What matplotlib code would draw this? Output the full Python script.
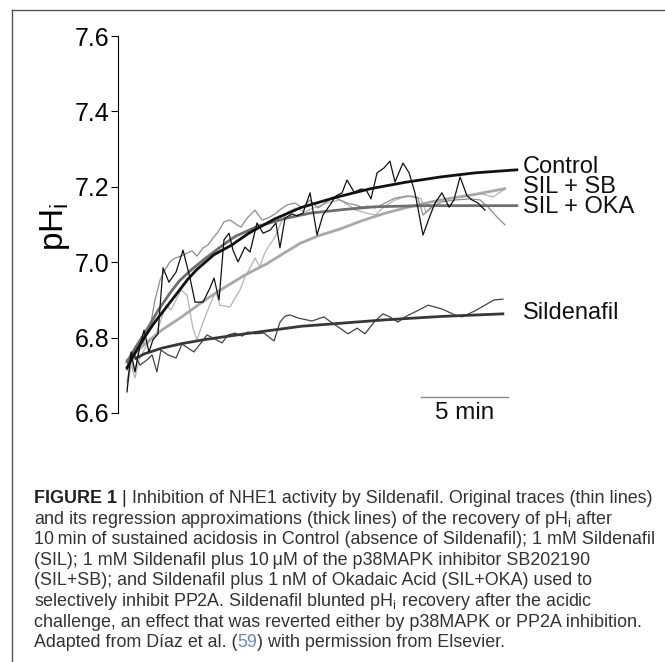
import matplotlib
matplotlib.use('Agg')
import matplotlib.pyplot as plt
from matplotlib.lines import Line2D

plt.rcParams['font.family'] = ['Liberation Sans', 'DejaVu Sans']
plt.rcParams['mathtext.default'] = 'regular'

# thin traces (time in min, pHi)
ctrl_t = [0, 0.23, 0.46, 0.75, 0.98, 1.26, 1.49, 1.78, 2.07, 2.41,
          2.82, 3.22, 3.62, 3.91, 4.37, 4.77, 5.00, 5.29, 5.57, 5.86,
          6.09, 6.38, 6.78, 7.07, 7.47, 7.82, 8.22, 8.56, 8.79, 9.08,
          9.48, 9.77, 10.11, 10.52, 10.92, 11.26, 11.67, 12.01, 12.36, 12.64,
          13.05, 13.45, 13.74, 14.02, 14.37, 14.77, 15.11, 15.40, 15.86, 16.21,
          16.55, 17.01, 17.36, 17.70, 18.10, 18.51, 18.79, 19.14, 19.54, 19.83,
          20.17, 20.57]
ctrl_ph = [6.656, 6.762, 6.709, 6.780, 6.820, 6.762, 6.794, 6.810, 6.985, 6.947,
           6.974, 7.032, 6.958, 6.894, 6.894, 6.932, 6.958, 6.900, 7.059, 7.077,
           7.032, 7.001, 7.040, 7.027, 7.104, 7.077, 7.085, 7.104, 7.038, 7.117,
           7.128, 7.123, 7.130, 7.184, 7.072, 7.125, 7.152, 7.176, 7.184, 7.218,
           7.186, 7.194, 7.192, 7.168, 7.237, 7.250, 7.268, 7.213, 7.263, 7.237,
           7.184, 7.072, 7.117, 7.157, 7.184, 7.146, 7.165, 7.226, 7.176, 7.165,
           7.157, 7.138]

sil_t = [0, 0.34, 0.75, 1.15, 1.44, 1.72, 1.95, 2.36, 2.82, 3.16,
         3.51, 3.85, 4.25, 4.60, 5.06, 5.46, 5.80, 6.21, 6.61, 6.95,
         7.36, 7.87, 8.45, 8.79, 9.08, 9.37, 9.83, 10.63, 11.32, 11.78,
         12.24, 12.70, 13.22, 13.68, 14.25, 14.71, 15.11, 15.57, 15.98, 16.55,
         17.30, 18.10, 18.85, 19.25, 20.00, 20.57, 21.09, 21.61]
sil_ph = [6.714, 6.762, 6.727, 6.741, 6.754, 6.709, 6.767, 6.754, 6.746, 6.783,
          6.772, 6.762, 6.786, 6.807, 6.796, 6.786, 6.807, 6.812, 6.804, 6.815,
          6.810, 6.812, 6.791, 6.841, 6.857, 6.860, 6.852, 6.844, 6.855, 6.839,
          6.825, 6.810, 6.825, 6.810, 6.844, 6.863, 6.855, 6.841, 6.855, 6.868,
          6.886, 6.876, 6.860, 6.855, 6.871, 6.886, 6.900, 6.902]

oka_t = [0, 0.23, 0.46, 0.69, 0.92, 1.15, 1.38, 1.61, 1.90, 2.18,
         2.47, 2.76, 3.10, 3.45, 3.74, 4.02, 4.37, 4.66, 4.94, 5.23,
         5.57, 5.92, 6.26, 6.55, 6.90, 7.36, 7.76, 8.10, 8.51, 8.85,
         9.20, 9.66, 10.06, 10.52, 10.98, 11.38, 11.84, 12.24, 12.64, 13.10,
         13.51, 13.85, 14.25, 14.83, 15.40, 16.15, 16.72, 17.01, 17.53, 18.10,
         18.85, 19.71, 20.29, 20.75, 21.26, 21.72]
oka_ph = [6.682, 6.741, 6.709, 6.767, 6.780, 6.820, 6.841, 6.900, 6.953, 6.979,
          7.001, 7.011, 7.016, 7.024, 7.030, 7.016, 7.038, 7.046, 7.064, 7.080,
          7.107, 7.112, 7.101, 7.093, 7.117, 7.138, 7.112, 7.117, 7.128, 7.141,
          7.152, 7.157, 7.144, 7.165, 7.144, 7.157, 7.173, 7.165, 7.157, 7.152,
          7.146, 7.149, 7.144, 7.157, 7.170, 7.176, 7.170, 7.125, 7.146, 7.160,
          7.165, 7.168, 7.165, 7.146, 7.120, 7.099]

sb_t = [0, 0.23, 0.46, 0.69, 0.92, 1.15, 1.38, 1.67, 1.95, 2.24,
        2.53, 2.82, 3.10, 3.45, 3.79, 4.02, 4.31, 4.60, 4.89, 5.11,
        5.34, 5.63, 5.92, 6.21, 6.49, 6.78, 7.07, 7.36, 7.64, 7.87,
        8.10, 8.51, 8.91, 9.25, 9.71, 10.23, 10.69, 11.21, 11.67, 12.24,
        12.70, 13.16, 13.56, 13.97, 14.25, 14.83, 15.40, 15.98, 16.49, 16.90,
        17.18, 17.59, 18.10, 18.68, 19.25, 19.83, 20.40, 21.03, 21.72]
sb_ph = [6.666, 6.727, 6.693, 6.741, 6.762, 6.780, 6.794, 6.807, 6.847, 6.886,
         6.873, 6.900, 6.926, 6.913, 6.825, 6.794, 6.833, 6.868, 6.900, 6.921,
         6.886, 6.884, 6.881, 6.905, 6.926, 6.961, 6.985, 7.011, 6.987, 7.019,
         7.040, 7.067, 7.112, 7.133, 7.144, 7.133, 7.144, 7.152, 7.160, 7.165,
         7.152, 7.138, 7.133, 7.128, 7.125, 7.149, 7.165, 7.173, 7.176, 7.168,
         7.133, 7.152, 7.165, 7.170, 7.173, 7.178, 7.181, 7.173, 7.194]

# regression curves (thick lines)
ctrl_fit_t = [0, 0.5, 1.0, 1.5, 2.0, 2.5, 3.0, 3.5, 4.0, 5.0, 6.0, 7.0, 8.5,
              10, 12, 14, 16, 18, 20, 22.4]
ctrl_fit_ph = [6.72, 6.762, 6.80, 6.835, 6.865, 6.895, 6.925, 6.955, 6.98, 7.02,
               7.045, 7.077, 7.115, 7.145, 7.172, 7.195, 7.212, 7.226, 7.237, 7.245]
oka_fit_t = [0, 0.5, 1.0, 1.8, 2.5, 3.0, 3.7, 4.5, 5.5, 6.2, 7.5, 9.1, 10.5,
             12.5, 14.25, 17, 19.5, 22.4]
oka_fit_ph = [6.735, 6.775, 6.81, 6.873, 6.92, 6.95, 6.98, 7.01, 7.045, 7.068,
              7.095, 7.116, 7.13, 7.14, 7.147, 7.15, 7.15, 7.15]
sb_fit_t = [0, 0.6, 1.2, 2.0, 3.05, 4.5, 5.5, 6.78, 8.0, 9.94, 11, 12.24, 13.5,
            14.83, 16.5, 18, 20, 21.7]
sb_fit_ph = [6.74, 6.765, 6.79, 6.82, 6.852, 6.90, 6.93, 6.966, 6.995, 7.05,
             7.07, 7.088, 7.11, 7.13, 7.15, 7.165, 7.18, 7.195]
sil_fit_t = [0.5, 1.0, 2.0, 3.14, 4.5, 6.78, 10, 14.8, 18, 21.6]
sil_fit_ph = [6.745, 6.757, 6.772, 6.784, 6.795, 6.81, 6.83, 6.847, 6.856, 6.863]

yticks = [6.6, 6.8, 7.0, 7.2, 7.4, 7.6]

W, H = 665, 662
fig = plt.figure(figsize=(W / 100, H / 100), dpi=100)
ax = fig.add_axes([117.5 / W, 1 - 413 / H, 522.5 / W, 377 / H])

ax.plot(sb_t, sb_ph, color='#b4b4b4', lw=0.9)
ax.plot(oka_t, oka_ph, color='#8c8c8c', lw=0.9)
ax.plot(sb_fit_t, sb_fit_ph, color='#a8a8a8', lw=2.0)
ax.plot(oka_fit_t, oka_fit_ph, color='#6e6e6e', lw=2.0)
ax.plot(sil_t, sil_ph, color='#444444', lw=0.9)
ax.plot(sil_fit_t, sil_fit_ph, color='#383838', lw=2.0)
ax.plot(ctrl_t, ctrl_ph, color='#111111', lw=0.9)
ax.plot(ctrl_fit_t, ctrl_fit_ph, color='#111111', lw=2.0)

lab = dict(fontsize=17, ha='left', va='center', color='#111111')
ax.text(22.76, 7.252, 'Control', **lab)
ax.text(22.76, 7.200, 'SIL + SB', **lab)
ax.text(22.76, 7.146, 'SIL + OKA', **lab)
ax.text(22.76, 6.865, 'Sildenafil', **lab)

# 5 min scale bar
ax.plot([16.9, 21.9], [6.643, 6.643], color='#888888', lw=1.0, clip_on=False)
ax.text(19.4, 6.60, '5 min', fontsize=17.5, ha='center', va='center', color='#111111')

ax.set_xlim(-0.546, 29.48)
ax.set_ylim(6.6, 7.6)
ax.set_yticks(yticks)
ax.set_yticklabels(['%.1f' % v for v in yticks])
ax.tick_params(axis='y', labelsize=18, length=5, width=0.8, pad=1, direction='out')
ax.get_xaxis().set_visible(False)
for s in ['top', 'right', 'bottom']:
    ax.spines[s].set_visible(False)
ax.spines['left'].set_linewidth(0.8)

fig.text(55 / W, 1 - 227 / H, 'pH$_\\mathregular{i}$', fontsize=24, rotation=90,
         ha='center', va='center')

# frame around figure + caption
fig.add_artist(Line2D([12 / W, 1.0], [1 - 10 / H, 1 - 10 / H], color='#555555', lw=1.0))
fig.add_artist(Line2D([12 / W, 12 / W], [0, 1 - 10 / H], color='#555555', lw=1.0))

# caption
renderer = fig.canvas.get_renderer()
cap_fs = 12.9
cap_col = '#333333'


def caption_line(y_px, parts):
    x = 34.0
    for txt, weight, col in parts:
        t = fig.text(x / W, 1 - y_px / H, txt, fontsize=cap_fs, fontweight=weight,
                     color=col, ha='left', va='baseline')
        x += t.get_window_extent(renderer).width


lines = [
    [('FIGURE 1', 'bold', '#222222'), (' |', 'normal', '#222222'),
     (' Inhibition of NHE1 activity by Sildenafil. Original traces (thin lines)', 'normal', cap_col)],
    [('and its regression approximations (thick lines) of the recovery of pH$_\\mathregular{i}$ after', 'normal', cap_col)],
    [('10\u2009min of sustained acidosis in Control (absence of Sildenafil); 1 mM Sildenafil', 'normal', cap_col)],
    [('(SIL); 1 mM Sildenafil plus 10\u2009\u03bcM of the p38MAPK inhibitor SB202190', 'normal', cap_col)],
    [('(SIL+SB); and Sildenafil plus 1\u2009nM of Okadaic Acid (SIL+OKA) used to', 'normal', cap_col)],
    [('selectively inhibit PP2A. Sildenafil blunted pH$_\\mathregular{i}$ recovery after the acidic', 'normal', cap_col)],
    [('challenge, an effect that was reverted either by p38MAPK or PP2A inhibition.', 'normal', cap_col)],
    [('Adapted from D\u00edaz et al. (', 'normal', cap_col), ('59', 'normal', '#6a8db5'),
     (') with permission from Elsevier.', 'normal', cap_col)],
]
for i, parts in enumerate(lines):
    caption_line(503 + i * 20.6, parts)

fig.savefig('out.png', dpi=100)
